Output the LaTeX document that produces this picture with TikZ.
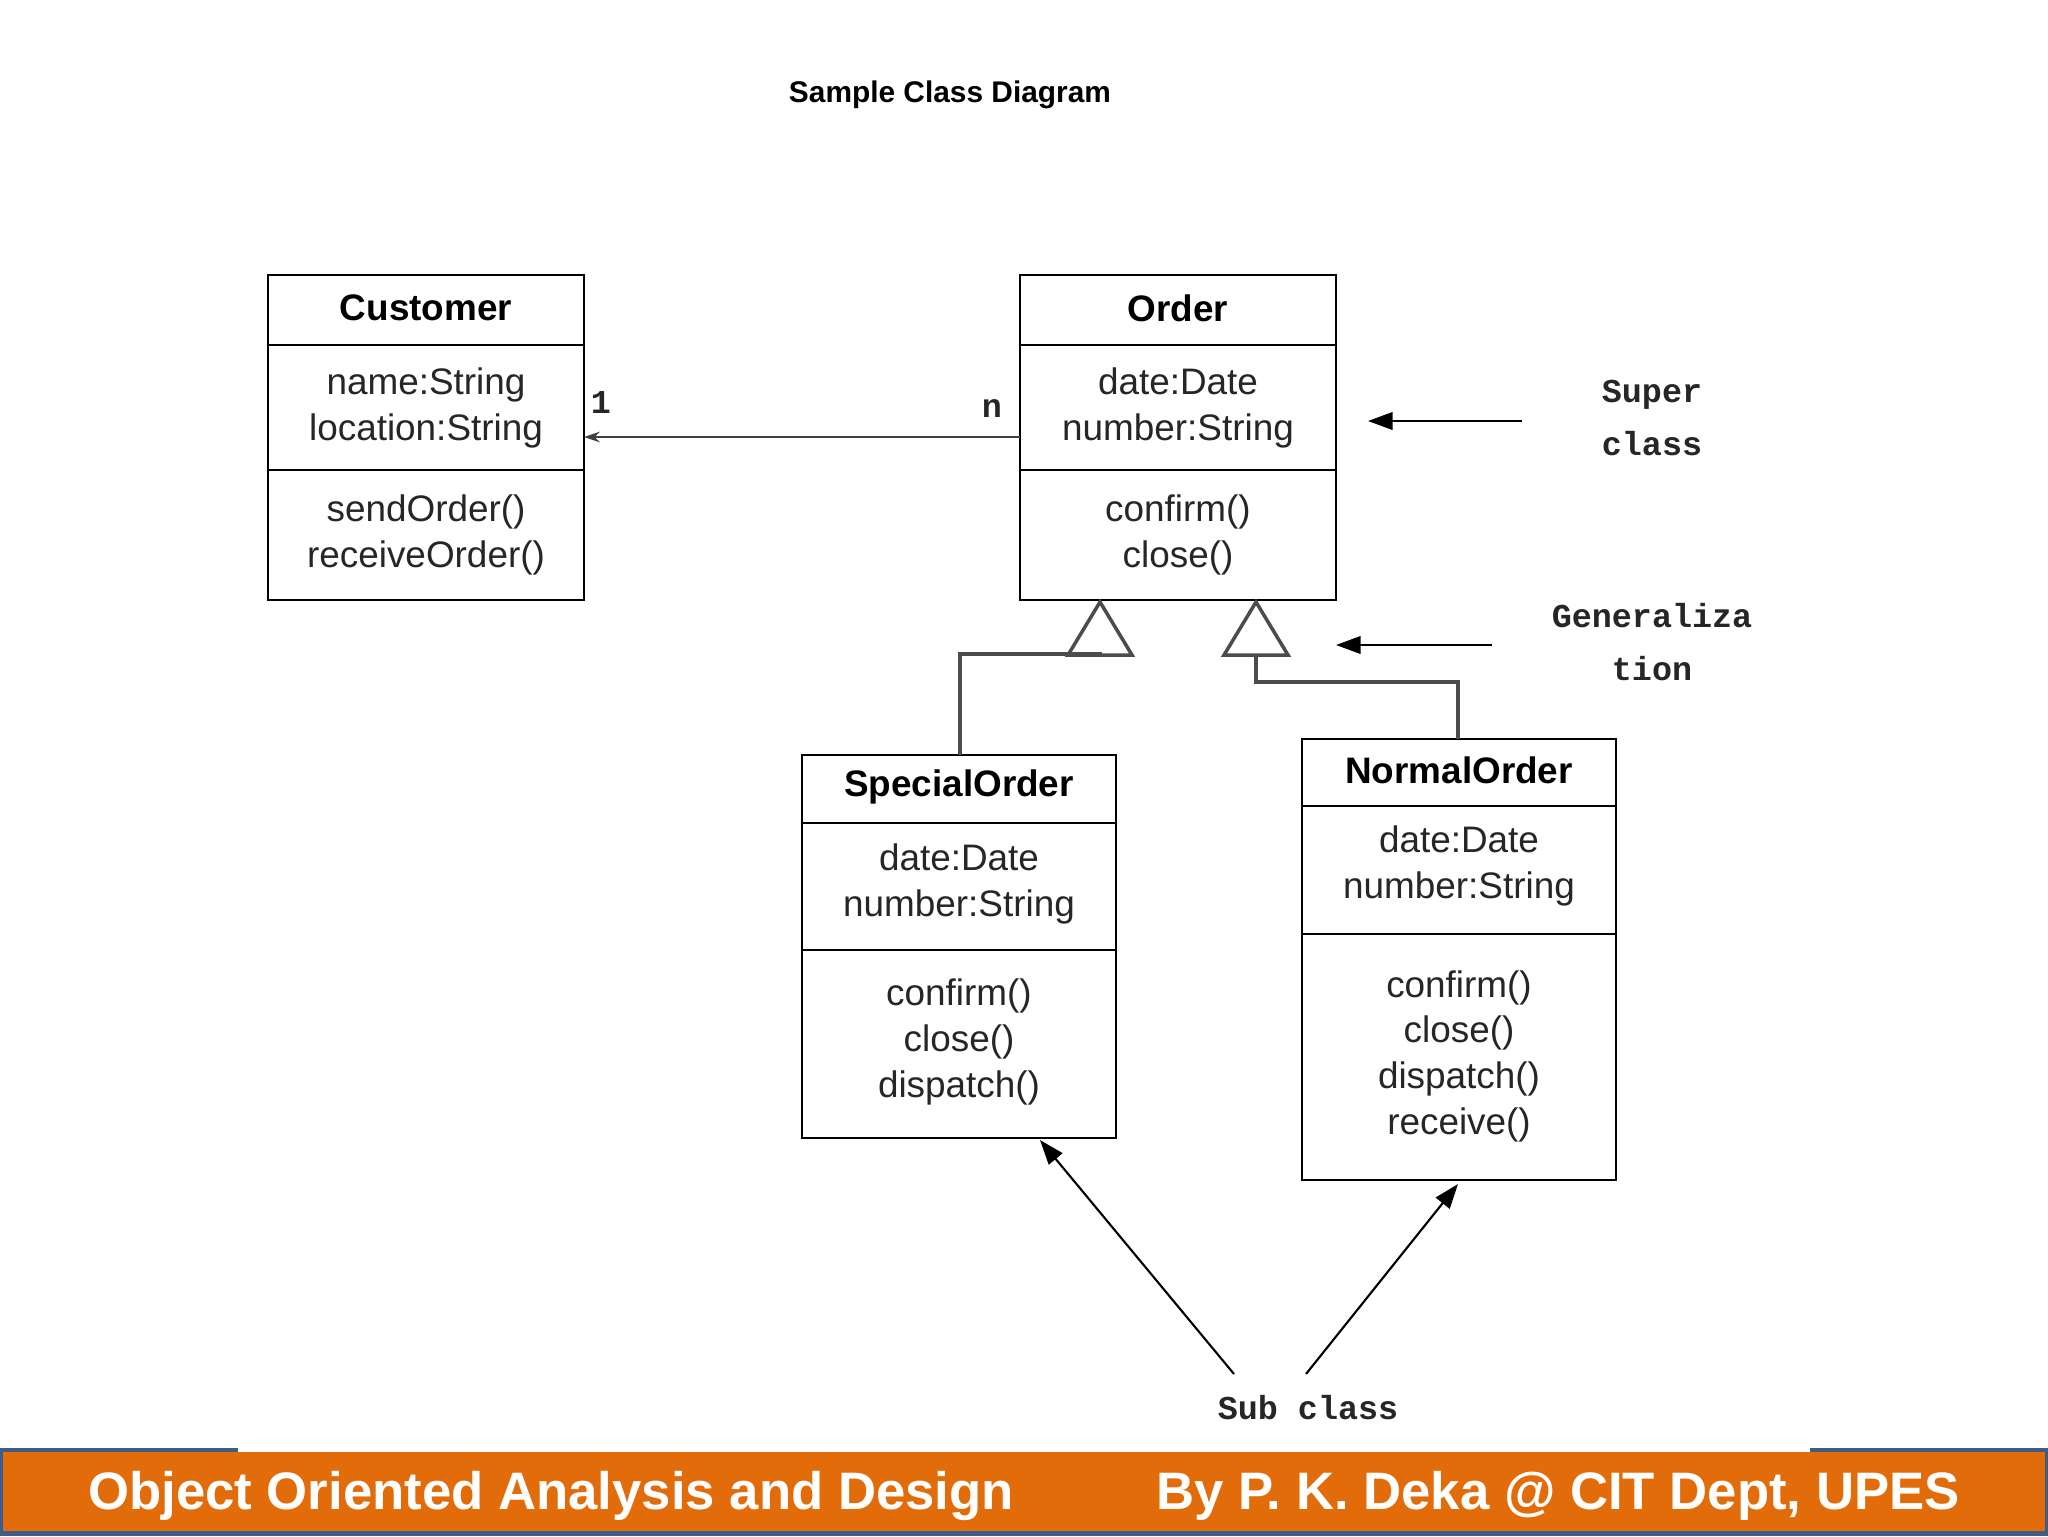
\documentclass[tikz,border=0pt]{standalone}
\usepackage{fontspec}
\setmainfont{Liberation Sans}
\newfontfamily\monof{Liberation Mono}
\usetikzlibrary{arrows.meta}
\definecolor{orng}{HTML}{E36C0A}
\definecolor{blu}{HTML}{3E5C86}
\begin{document}
\begin{tikzpicture}[x=0.02cm,y=-0.02cm,
  box/.style={draw,line width=1.6pt},
  txt/.style={font=\fontsize{21}{26}\selectfont,align=center,text=black!85,inner sep=0},
  ttl/.style={font=\bfseries\fontsize{21}{26}\selectfont,inner sep=0},
  ann/.style={font=\monof\bfseries\fontsize{19}{30}\selectfont,align=center,inner sep=0,text=black!85},
  gen/.style={draw=black!70,line width=2pt},
  pt/.style={-{Triangle[length=14pt,width=10pt]},line width=1.2pt}]
\useasboundingbox (0,0) rectangle (2048,1536);
\fill[white] (0,0) rectangle (2048,1536);
\node[font=\bfseries\fontsize{17}{20}\selectfont] (title) at (950,95) {Sample Class Diagram};
% Customer
\draw[box] (268,275) rectangle (584,600);
\draw[box] (268,345) -- (584,345) (268,470) -- (584,470);
\node[ttl] (cT) at (426,308) {Customer};
\node[txt] (cA) at (426,408) {name:String\\location:String};
\node[txt] (cM) at (426,535) {sendOrder()\\receiveOrder()};
\coordinate (cR) at (584,437);
% Order
\draw[box] (1020,275) rectangle (1336,600);
\draw[box] (1020,345) -- (1336,345) (1020,470) -- (1336,470);
\node[ttl] (oT) at (1178,308) {Order};
\node[txt] (oA) at (1178,408) {date:Date\\number:String};
\node[txt] (oM) at (1178,535) {confirm()\\close()};
\coordinate (oL) at (1020,437);
% SpecialOrder
\draw[box] (802,755) rectangle (1116,1138);
\draw[box] (802,823) -- (1116,823) (802,950) -- (1116,950);
\node[ttl] (sT) at (959,787) {SpecialOrder};
\node[txt] (sA) at (959,884) {date:Date\\number:String};
\node[txt] (sM) at (959,1042) {confirm()\\close()\\dispatch()};
% NormalOrder
\draw[box] (1302,739) rectangle (1616,1180);
\draw[box] (1302,806) -- (1616,806) (1302,934) -- (1616,934);
\node[ttl] (nT) at (1459,770) {NormalOrder};
\node[txt] (nA) at (1459,866) {date:Date\\number:String};
\node[txt] (nM) at (1459,1056) {confirm()\\close()\\dispatch()\\receive()};
% association
\draw[line width=1.6pt,draw=black!75,-{Stealth[length=9pt,width=6pt]}] (oL) -- (cR);
\node[ann] (one) at (601,402) {1};
\node[ann] (nn) at (992,408) {n};
% generalization
\coordinate (t1) at (1100,602); \coordinate (t2) at (1256,602);
\draw[gen,fill=white] (t1) -- (1068,655) -- (1132,655) -- cycle;
\draw[gen,fill=white] (t2) -- (1224,655) -- (1288,655) -- cycle;
\draw[gen] (1100,655) -- (1100,654) -| (960,755);
\draw[gen] (1100,655) |- (960,654) -- (960,755);
\draw[gen] (1256,655) |- (1458,682) -- (1458,739);
% annotations
\node[ann] (sup) at (1652,418) {Super\\class};
\coordinate (supA) at (1522,421);
\draw[pt] (supA) -- (1368,421);
\node[ann] (gz) at (1652,642) {Generaliza\\tion};
\coordinate (gzA) at (1492,645);
\draw[pt] (gzA) -- (1336,645);
\node[ann] (sub) at (1308,1408) {Sub class};
\coordinate (s1) at (1234,1374); \coordinate (s2) at (1306,1374);
\draw[pt] (s1) -- (1040,1140);
\draw[pt] (s2) -- (1458,1184);
% footer
\fill[blu] (0,1448) rectangle (238,1456);
\fill[blu] (1810,1448) rectangle (2048,1456);
\fill[orng] (0,1452) rectangle (2048,1536);
\fill[blu] (0,1531) rectangle (2048,1536);
\fill[blu] (0,1452) rectangle (3,1536);
\fill[blu] (2045,1452) rectangle (2048,1536);
\node[anchor=west,text=white,font=\bfseries\fontsize{30}{34}\selectfont,inner sep=0] (fl) at (88,1496) {Object Oriented Analysis and Design};
\node[anchor=east,text=white,font=\bfseries\fontsize{30}{34}\selectfont,inner sep=0] (fr) at (1960,1496) {By P. K. Deka @ CIT Dept, UPES};
\end{tikzpicture}
\end{document}
